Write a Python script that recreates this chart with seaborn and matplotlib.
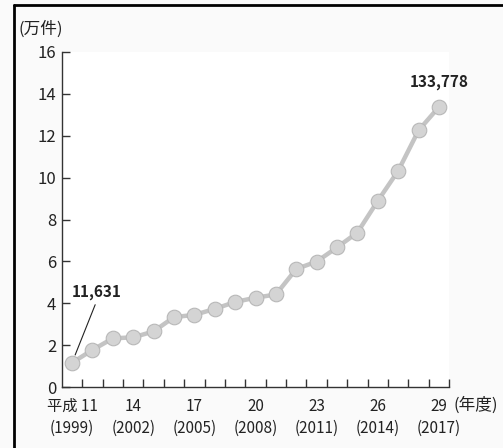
import numpy as np
import matplotlib.pyplot as plt
import matplotlib.lines as mlines
import matplotlib.transforms as mtransforms
import seaborn as sns
import pandas as pd

# Data: consultation counts per fiscal year (cases)
years = list(range(1999, 2018))
cases = [11631, 17725, 23274, 23738, 26569, 33408, 34472, 37323, 40639, 42664,
         44211, 56384, 59919, 66701, 73802, 88931, 103286, 122575, 133778]
tick_years = [1999, 2002, 2005, 2008, 2011, 2014, 2017]
tick_labels = ['平成 11', '14', '17', '20', '23', '26', '29']
tick_sub = ['(1999)', '(2002)', '(2005)', '(2008)', '(2011)', '(2014)', '(2017)']

df = pd.DataFrame({'year': years, 'cases': cases})
df['man'] = df['cases'] / 10000

sns.set_style('ticks')
plt.rcParams['font.family'] = ['Noto Sans CJK JP', 'DejaVu Sans']

fig = plt.figure(figsize=(5.03, 4.48), dpi=100, facecolor='#fafafa')
ax = fig.add_axes([0.123, 0.136, 0.77, 0.748])
ax.set_facecolor('white')

sns.lineplot(data=df, x='year', y='man', ax=ax, color='#c4c4c4', lw=3.2,
             marker='o', markersize=10.5, markerfacecolor='#d4d4d4',
             markeredgecolor='#b8b8b8', markeredgewidth=0.8, zorder=3)

ax.set_xlim(1998.5, 2017.5)
ax.set_ylim(0, 16)
ax.set_yticks(range(0, 17, 2))
ax.set_xticks(np.arange(1999.5, 2018, 1))
ax.set_xticklabels([])
ax.set_xticks(tick_years, minor=True)
ax.set_xticklabels(tick_labels, minor=True, fontsize=11, color='#222222')
ax.tick_params(axis='x', which='major', direction='in', length=6, width=1, color='#333333')
ax.tick_params(axis='x', which='minor', length=0, pad=8)
ax.tick_params(axis='y', direction='in', length=6, width=1, color='#333333',
               labelsize=12, labelcolor='#222222', pad=4)
ax.set_xlabel('')
ax.set_ylabel('')
for s in ['top', 'right']:
    ax.spines[s].set_visible(False)
for s in ['left', 'bottom']:
    ax.spines[s].set_color('#333333')
    ax.spines[s].set_linewidth(1)

# second line of x labels (western year)
trans = mtransforms.blended_transform_factory(ax.transData, ax.transAxes)
for yr, lab in zip(tick_years, tick_sub):
    ax.text(yr, -0.123, lab, transform=trans, fontsize=11, color='#222222',
            ha='center', va='center')

# annotations
ax.annotate(f'{cases[0]:,}', xy=(years[0], df['man'].iloc[0]), xytext=(1999.0, 4.15),
            fontsize=11, fontweight='bold', color='#222222', ha='left', va='bottom',
            arrowprops=dict(arrowstyle='-', color='#222222', lw=0.8, shrinkA=1, shrinkB=6,
                            relpos=(0.5, 0)))
ax.annotate(f'{cases[-1]:,}', xy=(years[-1], df['man'].iloc[-1]), xytext=(0, 12),
            textcoords='offset points', fontsize=11, fontweight='bold', color='#222222',
            ha='center', va='bottom')

fig.text(0.036, 0.935, '(万件)', fontsize=12, color='#222222', ha='left', va='center')
ax.text(1.012, -0.055, '(年度)', transform=ax.transAxes, fontsize=12, color='#222222',
        ha='left', va='center')

# frame lines (left and top)
fig.add_artist(mlines.Line2D([0.028, 0.028], [0, 0.989], color='black', lw=2))
fig.add_artist(mlines.Line2D([0.028, 1], [0.989, 0.989], color='black', lw=2))

fig.savefig('out.png', dpi=100, facecolor=fig.get_facecolor())
